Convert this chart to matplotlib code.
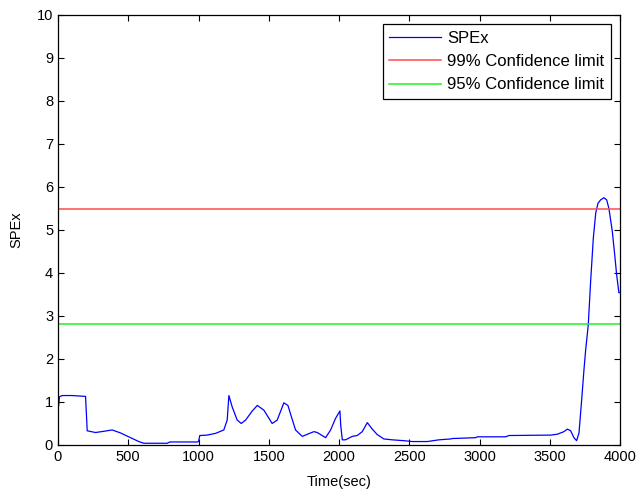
import matplotlib
matplotlib.use("Agg")
import matplotlib.pyplot as plt

plt.rcParams['font.family'] = ['Liberation Sans', 'DejaVu Sans']

# SPEx trace
time = [0, 5, 10, 30, 100, 196, 204, 208, 267, 330, 385, 445, 516, 575, 611, 700, 777,
        795, 900, 990, 1000, 1009, 1061, 1121, 1180, 1204, 1216, 1240, 1275, 1304, 1335,
        1380, 1418, 1465, 1524, 1560, 1607, 1636, 1690, 1738, 1790, 1821, 1845, 1904,
        1940, 1975, 2006, 2012, 2023, 2046, 2094, 2129, 2165, 2201, 2236, 2272, 2319,
        2378, 2461, 2521, 2628, 2711, 2794, 2806, 2972, 2984, 3185, 3209, 3505, 3553,
        3600, 3624, 3648, 3671, 3690, 3707, 3724, 3742, 3754, 3773, 3790, 3809, 3826,
        3842, 3861, 3884, 3904, 3920, 3944, 3961, 3975, 3991, 4000]
spex = [0.85, 0.92, 1.12, 1.15, 1.15, 1.13, 0.60, 0.33, 0.29, 0.32, 0.35, 0.28, 0.17,
        0.08, 0.04, 0.04, 0.04, 0.07, 0.07, 0.07, 0.08, 0.22, 0.23, 0.27, 0.35, 0.58,
        1.15, 0.88, 0.58, 0.50, 0.58, 0.78, 0.92, 0.81, 0.50, 0.58, 0.98, 0.92, 0.35,
        0.20, 0.27, 0.31, 0.29, 0.17, 0.35, 0.62, 0.79, 0.45, 0.12, 0.12, 0.20, 0.22,
        0.31, 0.52, 0.37, 0.24, 0.14, 0.12, 0.10, 0.08, 0.08, 0.12, 0.14, 0.15, 0.17,
        0.19, 0.19, 0.22, 0.23, 0.25, 0.31, 0.37, 0.33, 0.17, 0.10, 0.28, 0.96, 1.73,
        2.19, 2.79, 3.81, 4.81, 5.39, 5.62, 5.70, 5.75, 5.70, 5.50, 4.97, 4.43, 3.96,
        3.54, 3.55]

limit99 = 5.49
limit95 = 2.81

fig = plt.figure(figsize=(6.4, 4.93), dpi=100)
ax = fig.add_axes([0.0906, 0.0974, 0.8784, 0.8722])

ax.plot(time, spex, color='blue', linewidth=0.9, label='SPEx')
ax.axhline(limit99, color='#ff4a4a', linewidth=1.1, label='99% Confidence limit')
ax.axhline(limit95, color='#22ee22', linewidth=1.1, label='95% Confidence limit')

ax.set_xlim(0, 4000)
ax.set_ylim(0, 10)
ax.set_xticks(range(0, 4001, 500))
ax.set_yticks(range(0, 11))
ax.tick_params(direction='in', top=True, right=True, labelsize=10.5, length=4, width=0.8)
for s in ax.spines.values():
    s.set_linewidth(0.9)
ax.set_xlabel('Time(sec)', fontsize=10.5, labelpad=8)
ax.set_ylabel('SPEx', fontsize=10.5, labelpad=10)

leg = ax.legend(loc='upper right', fontsize=12, handlelength=3.1, fancybox=False,
                framealpha=1, borderaxespad=0.55, borderpad=0.4, labelspacing=0.5,
                handletextpad=0.38)
leg.get_frame().set_edgecolor('black')
leg.get_frame().set_linewidth(0.9)

fig.savefig('out.png', dpi=100)
